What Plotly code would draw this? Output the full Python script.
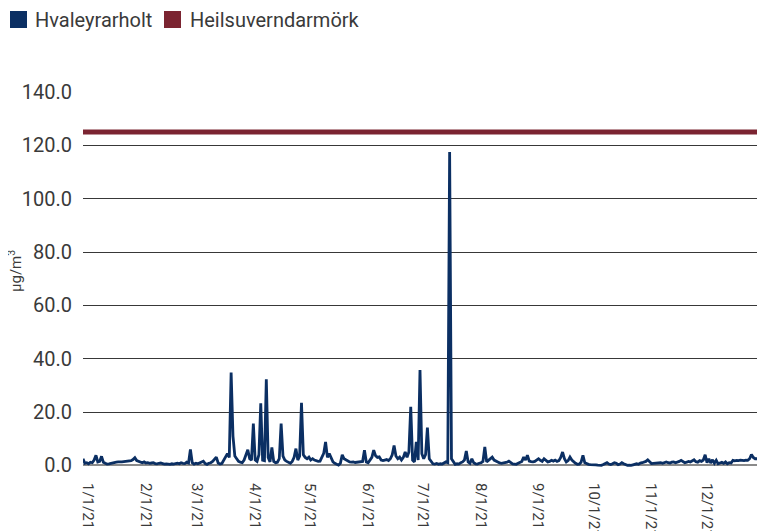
import pandas as pd
import plotly.graph_objects as go

# daily SO2 concentration 2021, one list per month (µg/m³)
jan = [2.5, 0.8, 1.0, 0.6, 1.2, 1.0, 2.0, 3.8, 1.3, 1.5, 3.4, 1.2, 0.8, 0.5, 0.6, 0.8, 1.0, 1.1, 1.2, 1.3,
       1.2, 1.3, 1.4, 1.5, 1.4, 1.6, 1.8, 2.2, 2.9, 1.8, 1.5]
feb = [1.2, 1.0, 1.3, 0.9, 1.0, 0.8, 0.9, 1.0, 0.7, 0.6, 0.8, 0.9, 0.7, 0.5, 0.6, 0.5, 0.4, 0.6, 0.5, 0.7,
       0.8, 0.6, 1.0, 0.8, 0.7, 1.2, 0.9, 6.0]
mar = [1.0, 0.5, 0.8, 0.6, 0.9, 1.2, 1.6, 0.7, 0.4, 0.8, 1.0, 1.5, 2.2, 3.1, 0.9, 0.5, 0.7, 1.8, 3.0, 4.4,
       3.0, 34.8, 11.0, 3.5, 2.5, 1.5, 1.2, 1.0, 2.0, 4.0, 5.9]
apr = [2.5, 2.0, 15.7, 2.0, 1.5, 4.0, 23.3, 2.0, 1.8, 32.3, 3.0, 1.3, 6.7, 1.5, 1.0, 1.2, 2.5, 15.7, 3.5, 2.0,
       1.5, 1.2, 0.8, 1.5, 3.0, 6.3, 2.0, 3.5, 23.5, 4.0]
may = [3.0, 2.5, 3.1, 2.0, 2.5, 2.0, 1.8, 1.5, 1.6, 3.0, 4.5, 8.8, 3.0, 4.4, 2.5, 1.3, 0.8, 0.3, 0.1, 0.8,
       4.0, 2.5, 2.0, 1.5, 1.3, 1.2, 1.3, 1.1, 1.2, 1.3, 1.4]
jun = [1.5, 5.7, 1.3, 1.0, 2.0, 3.0, 5.7, 3.6, 3.0, 3.2, 2.0, 1.8, 2.0, 2.2, 1.8, 2.5, 4.0, 7.5, 3.5, 2.5,
       3.1, 2.0, 3.0, 5.0, 3.0, 5.0, 22.0, 2.0, 1.3, 8.8]
jul = [2.0, 35.8, 4.4, 2.5, 4.0, 14.2, 2.5, 1.3, 0.6, 0.5, 0.7, 0.4, 0.6, 0.5, 0.8, 1.3, 1.0, 117.5, 2.5, 1.5,
       0.4, 0.6, 0.5, 1.0, 1.3, 2.0, 5.4, 1.3, 0.8, 2.5, 1.0]
aug = [0.6, 0.5, 0.8, 1.0, 1.5, 6.9, 1.3, 2.0, 2.5, 3.1, 2.0, 1.6, 1.2, 0.9, 0.8, 0.9, 1.0, 1.2, 1.6, 1.0,
       0.6, 0.5, 0.4, 0.8, 1.2, 1.5, 3.1, 2.0, 3.8, 1.6, 1.4]
sep = [1.3, 1.5, 1.9, 2.5, 1.9, 1.5, 2.5, 1.8, 1.3, 1.5, 1.9, 1.6, 2.0, 1.5, 1.8, 3.0, 5.0, 2.5, 1.3, 1.8,
       3.1, 2.0, 1.3, 0.8, 0.4, 0.5, 1.2, 3.8, 1.0, 0.6]
oct_ = [0.4, 0.3, 0.3, 0.4, 0.2, 0.1, 0.0, 0.0, 0.3, 0.8, 1.0, 0.5, 0.3, 0.6, 1.0, 0.8, 0.3, 0.5, 1.0, 0.6,
        0.2, 0.0, 0.1, 0.0, 0.2, 0.4, 0.6, 0.4, 0.9, 1.0, 1.2]
nov = [1.5, 2.1, 1.3, 0.7, 0.8, 0.9, 0.8, 0.9, 1.0, 0.8, 1.1, 1.3, 1.0, 0.9, 1.2, 1.3, 1.0, 1.2, 1.5, 1.9,
       1.3, 1.0, 1.2, 1.5, 1.3, 1.6, 2.1, 1.4, 1.2, 1.8]
dec = [1.5, 2.0, 4.0, 1.0, 2.5, 0.9, 2.1, 0.8, 1.9, 0.6, 1.0, 1.2, 0.8, 1.3, 0.6, 1.0, 0.9, 1.9, 1.7, 1.9,
       1.8, 2.0, 1.9, 1.8, 2.0, 1.9, 2.5, 4.1, 3.0, 2.5, 2.5]

limit_value = 125.0  # heilsuverndarmörk

tick_dates = ["2021-01-01", "2021-02-01", "2021-03-01", "2021-04-01", "2021-05-01", "2021-06-01",
              "2021-07-01", "2021-08-01", "2021-09-01", "2021-10-01", "2021-11-01", "2021-12-01"]
tick_labels = ["1/1/21", "2/1/21", "3/1/21", "4/1/21", "5/1/21", "6/1/21",
               "7/1/21", "8/1/21", "9/1/21", "10/1/21", "11/1/21", "12/1/21"]

series_names = ["Hvaleyrarholt", "Heilsuverndarmörk"]

values = jan + feb + mar + apr + may + jun + jul + aug + sep + oct_ + nov + dec
dates = pd.date_range("2021-01-01", periods=len(values), freq="D")

BLUE = "#0b2f63"
RED = "#7b2431"
TXT = "#3a3a3a"
FONT = "Roboto"

# the page body adds an 8px margin, so the figure is a bit smaller than the window
W, H = 758, 523
L, R, T, B = 75, 9, 84, 64
pw, ph = W - L - R, H - T - B


def px(x):
    return (x - L) / pw


def py(y):
    return (H - B - y) / ph


fig = go.Figure()

fig.add_trace(go.Scatter(
    x=dates, y=[limit_value] * len(dates), mode="lines",
    line=dict(color=RED, width=5), name=series_names[1], showlegend=False,
))
fig.add_trace(go.Scatter(
    x=dates, y=values, mode="lines",
    line=dict(color=BLUE, width=2.8), name=series_names[0], showlegend=False,
))

# legend drawn by hand: square key + label
for (x0, tx), name, col in zip([(2, 25), (156, 180)], series_names, [BLUE, RED]):
    fig.add_shape(type="rect", xref="paper", yref="paper",
                  x0=px(x0), x1=px(x0 + 17), y0=py(20), y1=py(3),
                  fillcolor=col, line_width=0)
    fig.add_annotation(x=px(tx), y=py(12), xref="paper", yref="paper",
                       text=name, showarrow=False, xanchor="left", yanchor="middle",
                       font=dict(size=20, color=TXT, family=FONT))

# y axis unit
fig.add_annotation(x=px(7), y=py(263), xref="paper", yref="paper",
                   text="µg/m<sup>3</sup>", textangle=-90, showarrow=False,
                   xanchor="center", yanchor="middle",
                   font=dict(size=15, color=TXT, family=FONT))

fig.update_layout(
    width=W, height=H,
    margin=dict(l=L, r=R, t=T, b=B, autoexpand=False),
    paper_bgcolor="white", plot_bgcolor="white",
    font=dict(family=FONT, color=TXT),
    showlegend=False,
)

fig.update_xaxes(
    range=["2021-01-01", "2021-12-31"],
    tickvals=tick_dates, ticktext=tick_labels, tickangle=90,
    tickfont=dict(size=15, color=TXT),
    showgrid=False, showline=False, zeroline=False,
    ticks="", ticklabelstandoff=15, ticklabelshift=5, automargin=False,
)
fig.update_yaxes(
    range=[-0.6, 140], tickvals=[0, 20, 40, 60, 80, 100, 120, 140], tickformat=".1f",
    tickfont=dict(size=20, color=TXT),
    showgrid=True, gridcolor="#383838", gridwidth=1,
    zeroline=True, zerolinecolor="#8a8a8a", zerolinewidth=2,
    showline=False, ticks="", ticklabelstandoff=10, automargin=False,
)

fig.write_html("out.html")
